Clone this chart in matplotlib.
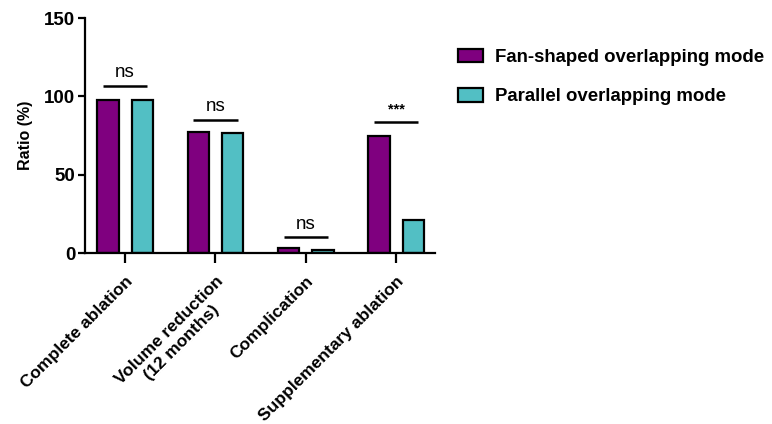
import numpy as np
import matplotlib.pyplot as plt
import matplotlib.transforms as mtransforms
from matplotlib.patches import Patch

plt.rcParams['font.family'] = ['Liberation Sans', 'DejaVu Sans']

categories = ["Complete ablation", "Volume reduction\n(12 months)", "Complication", "Supplementary ablation"]
fan = [97.8, 77.3, 3.0, 74.8]
parallel = [97.5, 76.9, 1.9, 21.1]
sig_labels = ["ns", "ns", "ns", "***"]
sig_heights = [106.7, 85.2, 10.0, 83.9]
series_names = ["Fan-shaped overlapping mode", "Parallel overlapping mode"]

purple = "#7f007f"
cyan = "#52bfc4"

fig = plt.figure(figsize=(7.72, 4.24), dpi=100)
ax = fig.add_axes([0.110, 0.4033, 0.4535, 0.5542])

x = np.arange(len(categories))
w = 0.235
off = 0.19
ax.bar(x - off, fan, w, color=purple, edgecolor="black", linewidth=1.6)
ax.bar(x + off, parallel, w, color=cyan, edgecolor="black", linewidth=1.6)

for xi, lab, h in zip(x, sig_labels, sig_heights):
    ax.plot([xi - 0.245, xi + 0.245], [h, h], color="black", lw=1.8, solid_capstyle="butt")
    if lab == "ns":
        ax.text(xi, h + 3, lab, ha="center", va="bottom", fontsize=13.5)
    else:
        ax.text(xi, h + 3, lab, ha="center", va="bottom", fontsize=10.5, fontweight="bold")

ax.set_xlim(-0.445, 3.43)
ax.set_ylim(0, 150)
ax.set_yticks([0, 50, 100, 150])
ax.set_xticks(x)
ax.set_xticklabels(categories, rotation=45, ha="right", va="top", rotation_mode="anchor",
                   multialignment="center", fontsize=12.5, fontweight="bold")
# nudge the rotated labels a little to the left
shift = mtransforms.ScaledTranslation(-0.05, 0, fig.dpi_scale_trans)
for t in ax.get_xticklabels():
    t.set_transform(t.get_transform() + shift)
for t in ax.get_yticklabels():
    t.set_fontweight("bold")
    t.set_fontsize(13.5)
ax.set_ylabel("Ratio (%)", fontsize=11.5, fontweight="bold", labelpad=8)

ax.spines["top"].set_visible(False)
ax.spines["right"].set_visible(False)
ax.spines["left"].set_linewidth(1.6)
ax.spines["bottom"].set_linewidth(1.6)
ax.tick_params(axis="x", length=7, width=1.6, pad=8)
ax.tick_params(axis="y", length=5, width=1.6, pad=2)

handles = [Patch(facecolor=purple, edgecolor="black", linewidth=1.6),
           Patch(facecolor=cyan, edgecolor="black", linewidth=1.6)]
fig.legend(handles, series_names, loc="upper left", bbox_to_anchor=(0.572, 0.925),
           frameon=False, prop={"weight": "bold", "size": 13.4},
           handlelength=1.35, handleheight=0.75, labelspacing=1.2, handletextpad=0.6)

fig.savefig("out.png", dpi=100)
